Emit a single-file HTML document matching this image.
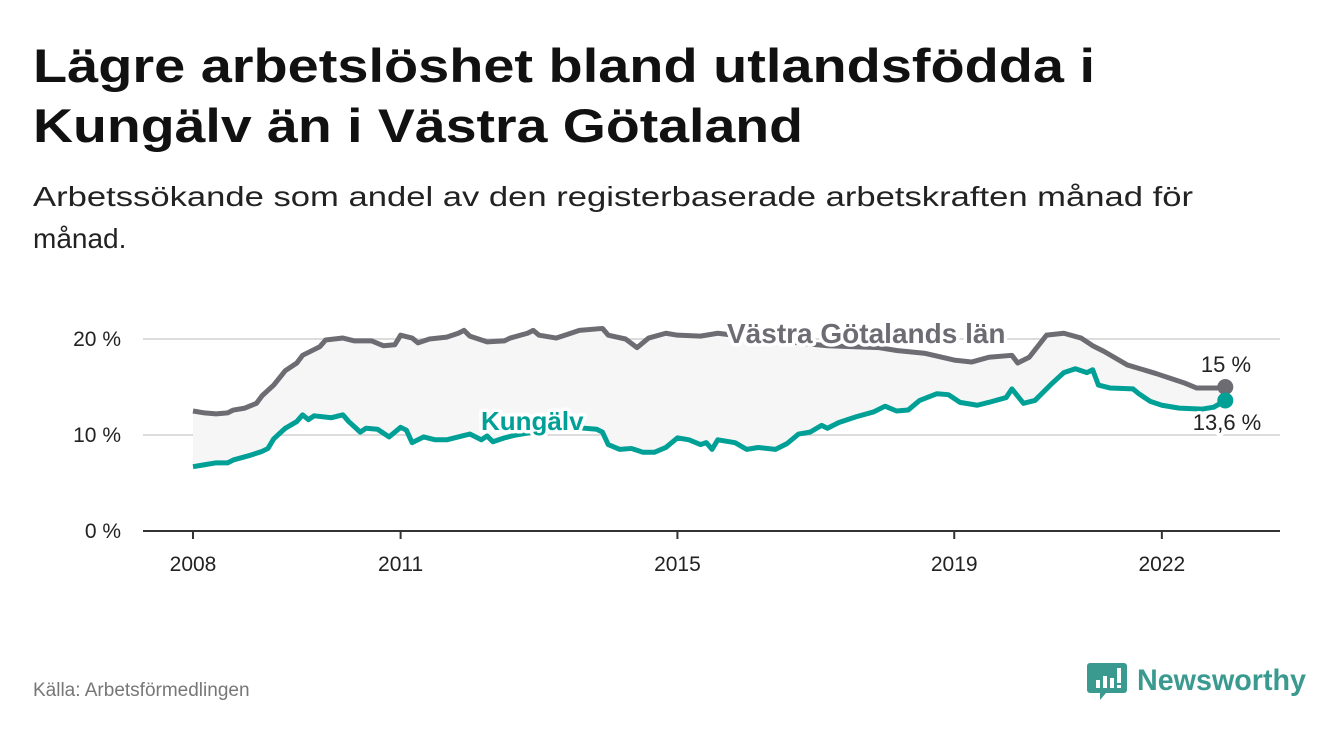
<!DOCTYPE html>
<html><head><meta charset="utf-8"><style>
html,body{margin:0;padding:0;background:#fff;width:1340px;height:734px;overflow:hidden}
svg{display:block;font-family:"Liberation Sans",sans-serif}
</style></head><body>
<svg id="chart" width="1340" height="734" viewBox="0 0 1340 734">
<text x="33" y="82" font-size="47" font-weight="bold" fill="#111" textLength="1062" lengthAdjust="spacingAndGlyphs">Lägre arbetslöshet bland utlandsfödda i</text>
<text x="33" y="142" font-size="47" font-weight="bold" fill="#111" textLength="770" lengthAdjust="spacingAndGlyphs">Kungälv än i Västra Götaland</text>
<text x="33" y="206" font-size="28" fill="#222" textLength="1160" lengthAdjust="spacingAndGlyphs">Arbetssökande som andel av den registerbaserade arbetskraften månad för</text>
<text x="33" y="248" font-size="28" fill="#222">månad.</text>
<g id="plot"></g>
<text x="33" y="696" font-size="19" fill="#777">Källa: Arbetsförmedlingen</text>
<g>
<path d="M1090 663 h34 a3 3 0 0 1 3 3 v24 a3 3 0 0 1 -3 3 h-18 l-6 7 v-7 h-10 a3 3 0 0 1 -3 -3 v-24 a3 3 0 0 1 3 -3z" fill="#3a9a8f"/>
<rect x="1096" y="680" width="4" height="8" fill="#fff"/><rect x="1103" y="676" width="4" height="12" fill="#fff"/><rect x="1110" y="678" width="4" height="10" fill="#fff"/><rect x="1117" y="668" width="4" height="15" fill="#fff"/><rect x="1117" y="685" width="4" height="3" fill="#fff"/>
<text x="1137" y="690" font-size="30" font-weight="bold" fill="#3a9a8f" textLength="169" lengthAdjust="spacingAndGlyphs">Newsworthy</text>
</g>
</svg>
<script>
const tickYears = [2008, 2011, 2015, 2019, 2022];
const yTicks = [0, 10, 20];
// months since Jan 2008
const vgMonths = [0,2,4,6,7,9,11,12,14,16,18,19,22,23,26,28,31,33,35,36,38,39,41,44,46,47,48,51,54,55,58,59,60,63,65,67,71,72,75,77,79,82,84,88,91,95,100,105,110,119,122,127,132,135,138,142,143,145,148,151,154,156,158,162,167,172,174,178,179];
const vgValues = [12.5,12.3,12.2,12.3,12.6,12.8,13.3,14.1,15.2,16.7,17.5,18.3,19.2,19.9,20.1,19.8,19.8,19.3,19.4,20.4,20.1,19.6,20.0,20.2,20.6,20.9,20.3,19.7,19.8,20.1,20.6,20.9,20.4,20.1,20.5,20.9,21.1,20.4,20.0,19.1,20.1,20.6,20.4,20.3,20.6,20.3,20.0,19.6,19.3,19.1,18.8,18.5,17.8,17.6,18.1,18.3,17.5,18.1,20.4,20.6,20.1,19.3,18.7,17.3,16.4,15.4,14.9,14.9,15.0];
const kuMonths = [0,2,4,6,7,10,12,13,14,16,18,19,20,21,24,26,27,29,30,32,34,36,37,38,40,42,44,46,48,50,51,52,54,56,58,62,66,70,71,72,74,76,78,80,82,84,86,88,89,90,91,94,96,98,101,103,105,107,109,110,112,115,118,120,122,124,126,129,131,133,136,138,141,142,144,146,149,151,153,155,156,157,159,163,164,166,168,171,175,177,179];
const kuValues = [6.7,6.9,7.1,7.1,7.4,7.9,8.3,8.6,9.6,10.7,11.4,12.1,11.6,12.0,11.8,12.1,11.4,10.3,10.7,10.6,9.8,10.8,10.5,9.2,9.8,9.5,9.5,9.8,10.1,9.5,9.9,9.3,9.7,10.0,10.2,10.6,10.8,10.6,10.3,9.0,8.5,8.6,8.2,8.2,8.7,9.7,9.5,9.0,9.2,8.5,9.5,9.2,8.5,8.7,8.5,9.1,10.1,10.3,11.0,10.7,11.3,11.9,12.4,13.0,12.5,12.6,13.6,14.3,14.2,13.4,13.1,13.4,13.9,14.8,13.3,13.6,15.4,16.5,16.9,16.5,16.8,15.2,14.9,14.8,14.3,13.5,13.1,12.8,12.7,12.9,13.6];
const endLabels = ["15 %", "13,6 %"];

const NS = "http://www.w3.org/2000/svg";
const X = m => 193 + m * 5.767;
const Y = v => 531 - v * 9.6;
const g = document.getElementById('plot');
function mk(tag, attrs){const e=document.createElementNS(NS,tag);for(const k in attrs)e.setAttribute(k,attrs[k]);g.appendChild(e);return e;}

yTicks.forEach(t=>{
  if(t>0){const l=mk('line',{x1:143,x2:1280,y1:Y(t),y2:Y(t),stroke:'#dcdcdc','stroke-width':2});
  
  }
  const tx=mk('text',{x:121,y:Y(t)+7,'font-size':21,fill:'#222','text-anchor':'end'});
  tx.textContent=t+' %';
  
  
});
let areaPts = vgMonths.map((m,i)=>X(m)+','+Y(vgValues[i]));
for(let i=kuMonths.length-1;i>=0;i--) areaPts.push(X(kuMonths[i])+','+Y(kuValues[i]));
const area=mk('polygon',{points:areaPts.join(' '),fill:'#f6f6f6'});



const ax=mk('line',{x1:143,x2:1280,y1:531,y2:531,stroke:'#333','stroke-width':2});


tickYears.forEach(yr=>{
  const m=(yr-2008)*12;
  const tk=mk('line',{x1:X(m),x2:X(m),y1:531,y2:539,stroke:'#333','stroke-width':2});
  
  
  const tx=mk('text',{x:X(m),y:571,'font-size':21,fill:'#222','text-anchor':'middle'});
  tx.textContent=yr;
  
  
});
const vg=mk('polyline',{points:vgMonths.map((m,i)=>X(m)+','+Y(vgValues[i])).join(' '),fill:'none',stroke:'#6e6c73','stroke-width':5,'stroke-linejoin':'round'});


const ku=mk('polyline',{points:kuMonths.map((m,i)=>X(m)+','+Y(kuValues[i])).join(' '),fill:'none',stroke:'#00a096','stroke-width':5,'stroke-linejoin':'round'});



function label(txt,x,y,size,weight,color,anchor,name){
  const t=mk('text',{x:x,y:y,'font-size':size,'font-weight':weight,fill:color,'text-anchor':anchor,stroke:'#fff','stroke-width':7,'paint-order':'stroke','stroke-linejoin':'round'});
  t.textContent=txt;
  
  
}
label('Västra Götalands län',727,343,28,'bold','#6e6c73','start','vastra-gotaland-label');
label('Kungälv',481,430,26,'bold','#00a096','start','kungalv-label');
const lm=vgMonths[vgMonths.length-1];
const d1=mk('circle',{cx:X(lm),cy:Y(vgValues[vgValues.length-1]),r:8,fill:'#6e6c73'});


label(endLabels[1],1227,430,22,'normal','#222','middle','kungalv-end-label');
const d2=mk('circle',{cx:X(kuMonths[kuMonths.length-1]),cy:Y(kuValues[kuValues.length-1]),r:8,fill:'#00a096'});


label(endLabels[0],1226,372,22,'normal','#222','middle','vastra-gotaland-end-label');
</script>
</body></html>
